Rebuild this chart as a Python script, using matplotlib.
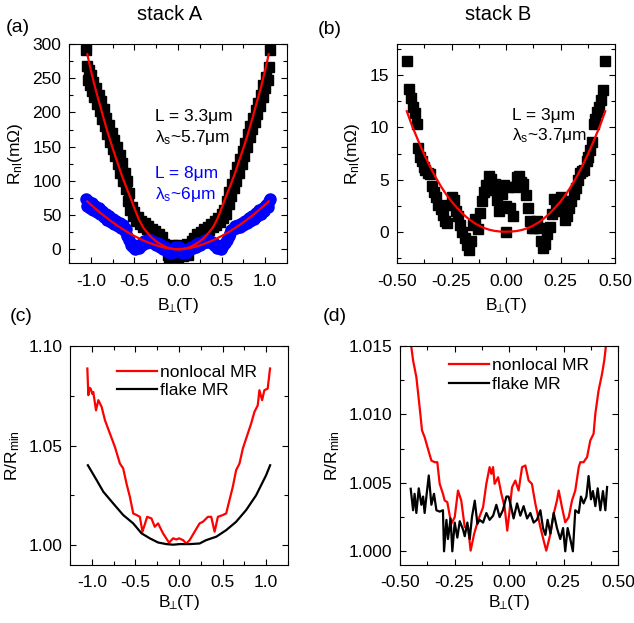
import numpy as np
import matplotlib
matplotlib.use("Agg")
import matplotlib.pyplot as plt

plt.rcParams['font.family'] = ['Liberation Sans', 'DejaVu Sans']
plt.rcParams['mathtext.fontset'] = 'custom'
plt.rcParams['mathtext.rm'] = 'Liberation Sans'
plt.rcParams['mathtext.it'] = 'Liberation Sans:italic'
plt.rcParams['mathtext.default'] = 'regular'
plt.rcParams['axes.unicode_minus'] = False
plt.rcParams['font.size'] = 12.5

# (a) stack A, L = 3.3 um (black squares)
a_black_b = [-1.055, -1.04, -1.03, -1.02, -1.01, -1.00, -0.99, -0.97, -0.96, -0.94,
             -0.93, -0.91, -0.90, -0.88, -0.87, -0.85, -0.84, -0.82, -0.81, -0.79,
             -0.78, -0.76, -0.75, -0.73, -0.72, -0.70, -0.69, -0.67, -0.66, -0.64,
             -0.63, -0.61, -0.60, -0.59, -0.57, -0.56, -0.55, -0.53, -0.52, -0.50,
             -0.48, -0.46, -0.44, -0.42, -0.40, -0.38, -0.36, -0.34, -0.32, -0.30,
             -0.28, -0.26, -0.24, -0.22, -0.20, -0.18, -0.16, -0.14, -0.12, -0.10,
             -0.08, -0.06, -0.04, -0.02, 0.0, 0.0, 0.02, 0.04, 0.06, 0.08,
             0.10, 0.12, 0.14, 0.16, 0.18, 0.20, 0.22, 0.24, 0.26, 0.28,
             0.30, 0.32, 0.34, 0.36, 0.38, 0.40, 0.42, 0.44, 0.46, 0.48,
             0.50, 0.52, 0.53, 0.55, 0.56, 0.58, 0.59, 0.61, 0.62, 0.64,
             0.65, 0.67, 0.68, 0.70, 0.71, 0.73, 0.74, 0.76, 0.77, 0.79,
             0.80, 0.82, 0.83, 0.85, 0.86, 0.88, 0.89, 0.91, 0.92, 0.94,
             0.95, 0.97, 0.98, 1.00, 1.01, 1.03, 1.04, 1.055]
a_black_r = [291, 268, 248, 262, 240, 255, 232, 245, 222, 236,
             212, 226, 202, 216, 190, 205, 180, 192, 168, 182,
             157, 170, 146, 160, 136, 150, 124, 138, 112, 126,
             100, 112, 88, 100, 70, 82, 58, 62, 48, 54,
             42, 47, 37, 42, 33, 38, 29, 34, 25, 30,
             22, 27, 18, 23, 14, 18, 8, 2, -8, -12,
             -3, 6, -8, 4, -12, 6, -5, 5, -10, 2,
             8, -9, 4, 12, 17, 13, 22, 18, 26, 21,
             30, 24, 33, 28, 37, 32, 41, 36, 46, 40,
             52, 46, 58, 52, 70, 66, 84, 78, 96, 90,
             108, 100, 120, 112, 132, 124, 144, 136, 156, 150,
             168, 164, 180, 176, 192, 186, 204, 198, 214, 210,
             226, 222, 240, 236, 252, 248, 266, 291]

# (a) stack A, L = 8 um (blue circles)
a_blue_b = [-1.05, -1.04, -1.03, -1.01, -0.99, -0.97, -0.95, -0.93, -0.91, -0.89,
            -0.87, -0.85, -0.83, -0.81, -0.79, -0.77, -0.75, -0.73, -0.71, -0.69,
            -0.67, -0.65, -0.63, -0.61, -0.60, -0.58, -0.56, -0.54, -0.52, -0.51,
            -0.49, -0.47, -0.45, -0.43, -0.41, -0.39, -0.37, -0.35, -0.33, -0.31,
            -0.29, -0.27, -0.25, -0.23, -0.21, -0.19, -0.17, -0.15, -0.13, -0.11,
            -0.09, -0.07, -0.05, -0.03, -0.01, 0.01, 0.03, 0.05, 0.07, 0.09,
            0.11, 0.13, 0.15, 0.17, 0.19, 0.21, 0.23, 0.25, 0.27, 0.29,
            0.31, 0.33, 0.35, 0.37, 0.39, 0.41, 0.43, 0.45, 0.47, 0.49,
            0.51, 0.52, 0.54, 0.56, 0.58, 0.60, 0.61, 0.63, 0.65, 0.67,
            0.69, 0.71, 0.73, 0.75, 0.77, 0.79, 0.81, 0.83, 0.85, 0.87,
            0.89, 0.91, 0.93, 0.95, 0.97, 0.99, 1.01, 1.03, 1.04, 1.05]
a_blue_r = [74, 64, 70, 60, 67, 57, 63, 54, 60, 51,
            56, 47, 52, 43, 48, 40, 45, 37, 42, 34,
            39, 31, 35, 27, 30, 20, 13, 7, 3, 6,
            0, 4, 2, 8, 6, 12, 9, 14, 10, 13,
            9, 11, 6, 9, 4, 6, 1, 3, -2, 1,
            -6, -2, -4, 3, -1, 4, -4, -6, -2, -5,
            1, -1, 4, 2, 6, 4, 9, 6, 11, 9,
            13, 10, 14, 10, 11, 6, 8, 2, 4, 0,
            3, 6, 9, 14, 20, 24, 28, 30, 34, 31,
            36, 33, 39, 35, 42, 38, 46, 41, 49, 45,
            53, 48, 57, 52, 61, 56, 65, 62, 70, 74]

# (a) fit curves
a_fit_b = [-1.04, -1.0, -0.95, -0.9, -0.85, -0.8, -0.75, -0.7, -0.65, -0.6, -0.55,
           -0.5, -0.45, -0.4, -0.35, -0.3, -0.25, -0.2, -0.15, -0.1, -0.05, 0.0,
           0.05, 0.1, 0.15, 0.2, 0.25, 0.3, 0.35, 0.4, 0.45, 0.5,
           0.55, 0.6, 0.65, 0.7, 0.75, 0.8, 0.85, 0.9, 0.95, 1.0, 1.04]
a_fit_black = [285, 262, 236, 213, 190, 168, 148, 129, 110, 93, 77,
               60, 44, 32, 24, 17, 11.5, 7.5, 4, 1.5, 0.4, 0,
               0.4, 1.5, 4, 7.5, 11.5, 17, 24, 32, 44, 60,
               77, 93, 110, 129, 148, 168, 190, 213, 236, 262, 285]
a_fit_blue = [70, 65.4, 59.8, 54.3, 49.2, 44.2, 39.5, 35.0, 30.8, 26.7, 22.9,
              19.4, 16.2, 13.2, 10.5, 8.0, 5.8, 3.9, 2.4, 1.2, 0.35, 0,
              0.35, 1.2, 2.4, 3.9, 5.8, 8.0, 10.5, 13.2, 16.2, 19.4,
              22.9, 26.7, 30.8, 35.0, 39.5, 44.2, 49.2, 54.3, 59.8, 65.4, 70]

# (b) stack B, L = 3 um
b_b = [-0.455, -0.443, -0.435, -0.426, -0.418, -0.41, -0.402, -0.394, -0.386, -0.378,
       -0.37, -0.36, -0.35, -0.34, -0.33, -0.32, -0.31, -0.30, -0.29, -0.28,
       -0.27, -0.26, -0.25, -0.24, -0.23, -0.22, -0.21, -0.20, -0.19, -0.18,
       -0.17, -0.16, -0.15, -0.14, -0.13, -0.12, -0.11, -0.10, -0.09, -0.08,
       -0.07, -0.06, -0.05, -0.04, -0.03, -0.02, -0.01, 0.0, 0.0, 0.01,
       0.02, 0.03, 0.04, 0.05, 0.06, 0.07, 0.08, 0.09, 0.10, 0.11,
       0.12, 0.13, 0.14, 0.15, 0.16, 0.17, 0.18, 0.19, 0.20, 0.21,
       0.22, 0.23, 0.24, 0.25, 0.26, 0.27, 0.28, 0.29, 0.30, 0.31,
       0.32, 0.33, 0.34, 0.35, 0.36, 0.37, 0.378, 0.386, 0.394, 0.402,
       0.41, 0.418, 0.426, 0.435, 0.443, 0.455]
b_r = [16.4, 13.7, 12.8, 12.0, 11.4, 10.3, 8.0, 7.2, 6.8, 6.2,
       5.9, 5.6, 5.5, 4.4, 3.8, 3.3, 2.6, 2.2, 1.6, 1.0,
       0.8, 2.6, 3.3, 3.0, 2.0, 1.5, 0.6, 0.0, -0.6, -1.3,
       -1.8, -0.9, 0.6, 1.2, 0.3, 1.8, 2.9, 3.8, 4.5, 5.3,
       5.1, 4.0, 4.6, 3.0, 2.0, 3.6, 4.5, 0.0, 2.5, 4.3,
       2.3, 1.5, 4.3, 5.2, 5.3, 4.8, 4.6, 3.5, 2.3, 1.0,
       0.4, 0.4, 1.0, 0.4, -0.9, -1.6, -1.2, -0.2, 0.5, 1.7,
       3.1, 2.4, 2.0, 3.3, 2.5, 1.1, 1.5, 2.3, 2.9, 3.6,
       4.2, 5.0, 5.6, 5.8, 5.9, 6.8, 7.2, 7.8, 8.6, 10.3,
       10.8, 11.5, 12.0, 12.6, 13.6, 16.4]
b_fit_b = [-0.455, -0.43, -0.40, -0.375, -0.35, -0.325, -0.30, -0.275, -0.25, -0.225,
           -0.20, -0.175, -0.15, -0.125, -0.10, -0.075, -0.05, -0.025, 0.0,
           0.025, 0.05, 0.075, 0.10, 0.125, 0.15, 0.175, 0.20, 0.225, 0.25,
           0.275, 0.30, 0.325, 0.35, 0.375, 0.40, 0.43, 0.455]
b_fit_r = [11.55, 10.1, 8.6, 7.4, 6.3, 5.3, 4.4, 3.6, 2.9, 2.3,
           1.75, 1.29, 0.90, 0.59, 0.35, 0.18, 0.07, 0.015, 0.0,
           0.015, 0.07, 0.18, 0.35, 0.59, 0.90, 1.29, 1.75, 2.3, 2.9,
           3.6, 4.4, 5.3, 6.3, 7.4, 8.6, 10.1, 11.55]

# (c) stack A normalised MR
c_nl_b = [-1.051, -1.040, -1.025, -1.013, -0.995, -0.983, -0.952, -0.925, -0.887, -0.849,
          -0.792, -0.735, -0.678, -0.640, -0.602, -0.563, -0.525, -0.487, -0.449, -0.419,
          -0.365, -0.316, -0.278, -0.240, -0.183, -0.114, -0.068, -0.030, 0.000, 0.046,
          0.084, 0.122, 0.179, 0.236, 0.274, 0.332, 0.370, 0.408, 0.446, 0.503,
          0.541, 0.579, 0.617, 0.655, 0.694, 0.732, 0.789, 0.827, 0.865, 0.903,
          0.922, 0.953, 0.979, 1.017, 1.044]
c_nl = [1.0887, 1.0753, 1.0790, 1.0786, 1.0760, 1.0769, 1.0677, 1.0728, 1.0694, 1.0627,
        1.0560, 1.0493, 1.0410, 1.0385, 1.0309, 1.0242, 1.0159, 1.0151, 1.0142, 1.0067,
        1.0142, 1.0134, 1.0092, 1.0109, 1.0059, 1.0012, 1.0034, 1.0028, 1.0034, 1.0025,
        1.0008, 1.0025, 1.0067, 1.0109, 1.0117, 1.0142, 1.0142, 1.0067, 1.0142, 1.0151,
        1.0159, 1.0226, 1.0293, 1.0376, 1.0410, 1.0485, 1.0560, 1.0610, 1.0669, 1.0702,
        1.0778, 1.0728, 1.0778, 1.0786, 1.0887]
c_fl_b = [-1.045, -0.944, -0.868, -0.754, -0.640, -0.525, -0.430, -0.335, -0.240, -0.145,
          -0.068, 0.008, 0.122, 0.236, 0.312, 0.427, 0.541, 0.655, 0.770, 0.884,
          0.998, 1.045]
c_fl = [1.0401, 1.0326, 1.0268, 1.0209, 1.0151, 1.0109, 1.0059, 1.0034, 1.0013, 1.0005,
        1.0002, 1.0005, 1.0005, 1.0008, 1.0025, 1.0042, 1.0075, 1.0117, 1.0176, 1.0250,
        1.0350, 1.0401]

# (d) stack B normalised MR
d_nl_b = [-0.455, -0.448, -0.440, -0.425, -0.410, -0.399, -0.387, -0.374, -0.356, -0.341,
          -0.329, -0.318, -0.303, -0.295, -0.283, -0.265, -0.249, -0.234, -0.219, -0.203,
          -0.188, -0.176, -0.160, -0.142, -0.119, -0.104, -0.089, -0.081, -0.073, -0.066,
          -0.050, -0.035, -0.020, -0.008, 0.001, 0.014, 0.029, 0.044, 0.060, 0.075,
          0.090, 0.105, 0.121, 0.144, 0.159, 0.171, 0.190, 0.205, 0.220, 0.228,
          0.243, 0.258, 0.274, 0.289, 0.304, 0.320, 0.327, 0.342, 0.358, 0.373,
          0.388, 0.396, 0.411, 0.427, 0.437, 0.445, 0.452]
d_nl = [1.0160, 1.01493, 1.01395, 1.01273, 1.01054, 1.00883, 1.00834, 1.00761, 1.00663, 1.00651,
        1.00651, 1.00493, 1.00420, 1.00371, 1.00359, 1.00200, 1.00249, 1.00444, 1.00371, 1.00176,
        1.00176, 1.00005, 1.00127, 1.00225, 1.00322, 1.00493, 1.00615, 1.00566, 1.00615, 1.00493,
        1.00541, 1.00420, 1.00322, 1.00151, 1.00274, 1.00468, 1.00517, 1.00444, 1.00615, 1.00627,
        1.00517, 1.00493, 1.00347, 1.00176, 1.00078, 1.00005, 1.00127, 1.00274, 1.00371, 1.00444,
        1.00322, 1.00212, 1.00249, 1.00371, 1.00444, 1.00615, 1.00651, 1.00651, 1.00688, 1.00810,
        1.00859, 1.01005, 1.01176, 1.01298, 1.01395, 1.01505, 1.0160]
d_fl_b = [-0.451, -0.440, -0.433, -0.425, -0.414, -0.402, -0.394, -0.387, -0.379, -0.368,
          -0.356, -0.344, -0.333, -0.318, -0.303, -0.298, -0.287, -0.280, -0.268, -0.260,
          -0.249, -0.237, -0.226, -0.211, -0.203, -0.191, -0.180, -0.170, -0.157, -0.145,
          -0.135, -0.119, -0.104, -0.089, -0.073, -0.058, -0.043, -0.028, -0.012,
          -0.002, 0.009, 0.021, 0.037, 0.052, 0.067, 0.083, 0.098, 0.113, 0.128,
          0.144, 0.156, 0.167, 0.177, 0.190, 0.205, 0.220, 0.235, 0.248, 0.258,
          0.269, 0.281, 0.293, 0.304, 0.320, 0.330, 0.342, 0.355, 0.365, 0.376,
          0.385, 0.396, 0.407, 0.419, 0.431, 0.442, 0.450]
d_fl = [1.00457, 1.0030, 1.0042, 1.0028, 1.0046, 1.0034, 1.0040, 1.0028, 1.0040, 1.00554,
        1.0034, 1.0042, 1.0030, 1.0029, 1.0030, 1.0000, 1.0023, 1.0009, 1.0024, 1.0000,
        1.0021, 1.0010, 1.0022, 1.0016, 1.0011, 1.0021, 1.0009, 1.0025, 1.0037, 1.0020,
        1.0023, 1.0021, 1.0028, 1.0023, 1.0026, 1.0034, 1.0025, 1.0030, 1.0040,
        1.0040, 1.0033, 1.0024, 1.0035, 1.0026, 1.0033, 1.0024, 1.0028, 1.0021, 1.0023,
        1.0030, 1.0017, 1.0012, 1.0023, 1.0013, 1.0028, 1.0017, 1.0009, 1.0017, 1.0000,
        1.0017, 1.0009, 1.0000, 1.0030, 1.0028, 1.0040, 1.0035, 1.0040, 1.0055, 1.0038,
        1.0044, 1.0033, 1.0046, 1.0030, 1.0044, 1.0030, 1.0047]

W, H = 634, 623
fig = plt.figure(figsize=(W / 100, H / 100), dpi=100)


def px_axes(left, top, right, bottom):
    return fig.add_axes([left / W, 1 - bottom / H, (right - left) / W, (bottom - top) / H])


def style(ax, xmaj, ymaj, xpad=7, ypad=5.5):
    ax.xaxis.set_major_locator(plt.MultipleLocator(xmaj))
    ax.xaxis.set_minor_locator(plt.MultipleLocator(xmaj / 2))
    ax.yaxis.set_major_locator(plt.MultipleLocator(ymaj))
    ax.yaxis.set_minor_locator(plt.MultipleLocator(ymaj / 2))
    ax.tick_params(which='both', direction='in', top=True, right=True, labelsize=12.5)
    ax.tick_params(which='major', length=4, width=0.8)
    ax.tick_params(which='minor', length=3, width=0.8)
    ax.tick_params(axis='x', which='major', pad=xpad)
    ax.tick_params(axis='y', which='major', pad=ypad)


def ftext(x, y, s, **kw):
    fig.text(x / W, 1 - y / H, s, **kw)


xlab = r'B$_{\!\!\bot}\!$(T)'
fs = 12.5

# (a)
ax = px_axes(69, 44, 287, 263)
ax.plot(a_black_b, a_black_r, 's', color='black', ms=7.5, mec='black')
ax.plot(a_blue_b, a_blue_r, 'o', color='#0000ff', ms=8, mec='#0000ff')
ax.plot(a_fit_b, a_fit_black, color='#ff0000', lw=1.6)
ax.plot(a_fit_b, a_fit_blue, color='#ff0000', lw=1.6)
ax.set_xlim(-1.25, 1.25)
ax.set_ylim(-20, 300)
style(ax, 0.5, 50, xpad=8)
ax.set_xlabel(xlab, fontsize=fs)
ax.set_ylabel('R$_{nl}$(mΩ)', fontsize=fs)
ax.xaxis.set_label_coords(0.5, -0.15)
ax.yaxis.set_label_coords(-0.20, 0.5)
ax.text(0.394, 0.650, 'L = 3.3μm', transform=ax.transAxes, fontsize=fs)
ax.text(0.394, 0.554, r'λ$_s$~5.7μm', transform=ax.transAxes, fontsize=fs)
ax.text(0.394, 0.387, 'L = 8μm', transform=ax.transAxes, fontsize=fs, color='#0000ff')
ax.text(0.394, 0.291, r'λ$_s$~6μm', transform=ax.transAxes, fontsize=fs, color='#0000ff')

# (b)
ax = px_axes(397, 44, 615, 263)
ax.plot(b_b, b_r, 's', color='black', ms=7.5, mec='black')
ax.plot(b_fit_b, b_fit_r, color='#ff0000', lw=1.6)
ax.set_xlim(-0.5, 0.5)
ax.set_ylim(-3, 18)
style(ax, 0.25, 5, xpad=8)
ax.xaxis.set_major_formatter(plt.FormatStrFormatter('%.2f'))
ax.set_xlabel(xlab, fontsize=fs)
ax.set_ylabel('R$_{nl}$(mΩ)', fontsize=fs)
ax.xaxis.set_label_coords(0.5, -0.15)
ax.yaxis.set_label_coords(-0.16, 0.5)
ax.text(0.526, 0.653, 'L = 3μm', transform=ax.transAxes, fontsize=fs)
ax.text(0.526, 0.562, r'λ$_s$~3.7μm', transform=ax.transAxes, fontsize=fs)

# (c)
ax = px_axes(70, 346, 288, 565)
ax.plot(c_nl_b, c_nl, color='#ff0000', lw=1.6, label='nonlocal MR')
ax.plot(c_fl_b, c_fl, color='black', lw=1.6, label='flake MR')
ax.set_xlim(-1.25, 1.25)
ax.set_ylim(0.99, 1.10)
style(ax, 0.5, 0.05)
ax.yaxis.set_major_formatter(plt.FormatStrFormatter('%.2f'))
ax.set_xlabel(xlab, fontsize=fs)
ax.set_ylabel('R/R$_{min}$', fontsize=fs)
ax.xaxis.set_label_coords(0.5, -0.13)
ax.yaxis.set_label_coords(-0.22, 0.5)
ax.legend(loc='upper left', bbox_to_anchor=(0.215, 0.915), frameon=False, fontsize=fs,
          handlelength=2.3, handletextpad=0.2, labelspacing=0.2, borderpad=0, borderaxespad=0)

# (d)
ax = px_axes(400, 346, 618, 565)
ax.plot(d_nl_b, d_nl, color='#ff0000', lw=1.6, label='nonlocal MR')
ax.plot(d_fl_b, d_fl, color='black', lw=1.6, label='flake MR')
ax.set_xlim(-0.5, 0.5)
ax.set_ylim(0.999, 1.015)
style(ax, 0.25, 0.005)
ax.yaxis.set_major_formatter(plt.FormatStrFormatter('%.3f'))
ax.xaxis.set_major_formatter(plt.FormatStrFormatter('%.2f'))
ax.set_xlabel(xlab, fontsize=fs)
ax.set_ylabel('R/R$_{min}$', fontsize=fs)
ax.xaxis.set_label_coords(0.5, -0.13)
ax.yaxis.set_label_coords(-0.265, 0.5)
ax.legend(loc='upper left', bbox_to_anchor=(0.225, 0.945), frameon=False, fontsize=fs,
          handlelength=2.3, handletextpad=0.2, labelspacing=0.2, borderpad=0, borderaxespad=0)

# panel labels and titles
ftext(6, 32, '(a)', fontsize=14)
ftext(318, 34, '(b)', fontsize=14)
ftext(10, 321, '(c)', fontsize=14)
ftext(323, 321, '(d)', fontsize=14)
ftext(170, 20, 'stack A', fontsize=14.5, ha='center')
ftext(498, 20, 'stack B', fontsize=14.5, ha='center')

plt.savefig('out.png', dpi=100)
